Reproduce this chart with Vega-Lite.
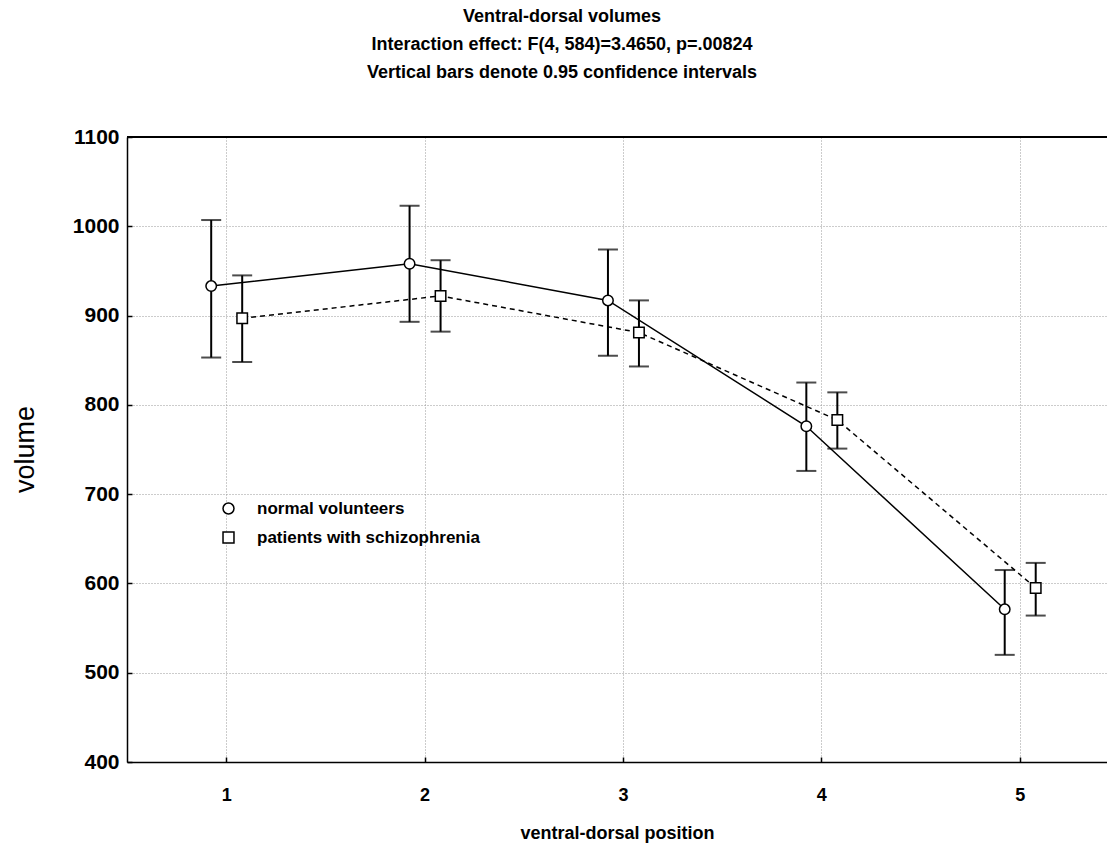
{
  "$schema": "https://vega.github.io/schema/vega-lite/v6.json",
  "width": 980,
  "height": 625,
  "autosize": {"type": "none"},
  "padding": {"left": 127, "top": 137, "right": 0, "bottom": 85},
  "background": "white",
  "title": {
    "text": ["Ventral-dorsal volumes", "Interaction effect: F(4, 584)=3.4650, p=.00824", "Vertical bars denote 0.95 confidence intervals"],
    "font": "Liberation Sans", "fontSize": 18, "fontWeight": "bold", "lineHeight": 28, "offset": 44, "anchor": "middle", "dx": -55, "color": "black"
  },
  "data": {"values": [
    {"pos": 1, "group": "normal volunteers", "mean": 933, "lo": 853, "hi": 1007},
    {"pos": 2, "group": "normal volunteers", "mean": 958, "lo": 893, "hi": 1023},
    {"pos": 3, "group": "normal volunteers", "mean": 917, "lo": 855, "hi": 974},
    {"pos": 4, "group": "normal volunteers", "mean": 776, "lo": 726, "hi": 825},
    {"pos": 5, "group": "normal volunteers", "mean": 571, "lo": 520, "hi": 615},
    {"pos": 1, "group": "patients with schizophrenia", "mean": 897, "lo": 848, "hi": 945},
    {"pos": 2, "group": "patients with schizophrenia", "mean": 922, "lo": 882, "hi": 962},
    {"pos": 3, "group": "patients with schizophrenia", "mean": 881, "lo": 843, "hi": 917},
    {"pos": 4, "group": "patients with schizophrenia", "mean": 783, "lo": 751, "hi": 814},
    {"pos": 5, "group": "patients with schizophrenia", "mean": 595, "lo": 564, "hi": 623}
  ]},
  "encoding": {
    "x": {"field": "pos", "type": "quantitative", "scale": {"domain": [0.5, 5.44], "nice": false, "zero": false}, "title": "ventral-dorsal position"},
    "y": {"field": "mean", "type": "quantitative", "scale": {"domain": [400, 1100], "nice": false, "zero": false}, "title": "volume"}
  },
  "layer": [
    {
      "mark": {"type": "rule", "color": "black", "strokeWidth": 1.5},
      "encoding": {
        "x": {"datum": 0.5, "type": "quantitative"},
        "x2": {"datum": 5.44},
        "y": {"datum": 1100, "type": "quantitative"}
      }
    },
    {
      "transform": [{"filter": "datum.group === 'normal volunteers'"}],
      "layer": [
        {"mark": {"type": "line", "color": "black", "strokeWidth": 1.5, "xOffset": -15}},
        {"mark": {"type": "rule", "color": "black", "strokeWidth": 2, "xOffset": -15},
          "encoding": {"y": {"field": "lo", "type": "quantitative"}, "y2": {"field": "hi"}}},
        {"mark": {"type": "tick", "color": "black", "orient": "horizontal", "size": 20, "thickness": 2, "xOffset": -15},
          "encoding": {"y": {"field": "lo", "type": "quantitative"}}},
        {"mark": {"type": "tick", "color": "black", "orient": "horizontal", "size": 20, "thickness": 2, "xOffset": -15},
          "encoding": {"y": {"field": "hi", "type": "quantitative"}}},
        {"mark": {"type": "point", "filled": false, "fill": "white", "strokeWidth": 1.5, "size": 110, "opacity": 1, "fillOpacity": 1, "xOffset": -15},
          "encoding": {
            "color": {"field": "group", "type": "nominal", "scale": {"domain": ["normal volunteers", "patients with schizophrenia"], "range": ["black", "black"]},
              "legend": {"orient": "none", "legendX": 93, "legendY": 363, "title": null}},
            "shape": {"field": "group", "type": "nominal", "scale": {"domain": ["normal volunteers", "patients with schizophrenia"], "range": ["circle", "square"]},
              "legend": {"orient": "none", "legendX": 93, "legendY": 363, "title": null}}
          }}
      ]
    },
    {
      "transform": [{"filter": "datum.group === 'patients with schizophrenia'"}],
      "layer": [
        {"mark": {"type": "line", "color": "black", "strokeWidth": 1.5, "strokeDash": [5, 4], "xOffset": 16}},
        {"mark": {"type": "rule", "color": "black", "strokeWidth": 2, "xOffset": 16},
          "encoding": {"y": {"field": "lo", "type": "quantitative"}, "y2": {"field": "hi"}}},
        {"mark": {"type": "tick", "color": "black", "orient": "horizontal", "size": 20, "thickness": 2, "xOffset": 16},
          "encoding": {"y": {"field": "lo", "type": "quantitative"}}},
        {"mark": {"type": "tick", "color": "black", "orient": "horizontal", "size": 20, "thickness": 2, "xOffset": 16},
          "encoding": {"y": {"field": "hi", "type": "quantitative"}}},
        {"mark": {"type": "point", "filled": false, "fill": "white", "strokeWidth": 1.5, "size": 110, "opacity": 1, "fillOpacity": 1, "xOffset": 16},
          "encoding": {
            "color": {"field": "group", "type": "nominal", "scale": {"domain": ["normal volunteers", "patients with schizophrenia"], "range": ["black", "black"]},
              "legend": {"orient": "none", "legendX": 93, "legendY": 363, "title": null}},
            "shape": {"field": "group", "type": "nominal", "scale": {"domain": ["normal volunteers", "patients with schizophrenia"], "range": ["circle", "square"]},
              "legend": {"orient": "none", "legendX": 93, "legendY": 363, "title": null}}
          }}
      ]
    }
  ],
  "config": {
    "view": {"stroke": null},
    "axis": {
      "labelFont": "Liberation Sans", "labelFontWeight": "bold", "labelColor": "black",
      "titleFont": "Liberation Sans", "titleColor": "black",
      "domainColor": "black", "domainWidth": 1.5,
      "tickColor": "black", "tickSize": -5, "tickWidth": 1.5,
      "grid": true, "gridColor": "#999999", "gridDash": [1, 2], "gridWidth": 1
    },
    "axisX": {"labelFontSize": 18, "labelPadding": 29, "titleFontSize": 18, "titleFontWeight": "bold", "titlePadding": 20, "tickCount": 5, "format": "d"},
    "axisY": {"labelFontSize": 21, "labelPadding": 13, "titleFontSize": 27, "titleFontWeight": "normal", "titleX": -88, "titleY": 312, "tickCount": 7, "format": "d"},
    "legend": {
      "labelFont": "Liberation Sans", "labelFontSize": 17, "labelFontWeight": "bold", "labelColor": "black", "labelLimit": 400,
      "symbolSize": 120, "symbolStrokeWidth": 1.5, "symbolFillColor": "white",
      "rowPadding": 11, "labelOffset": 20, "padding": 0
    }
  }
}
